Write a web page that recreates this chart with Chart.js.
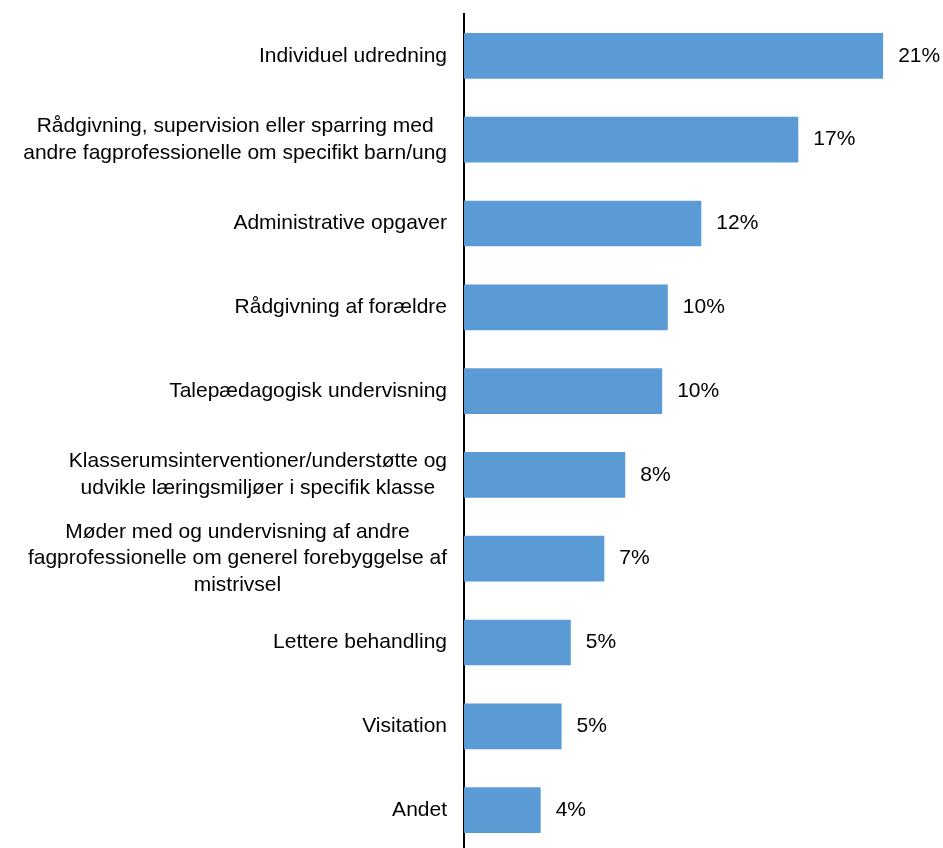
<!DOCTYPE html>
<html>
<head>
<meta charset="utf-8">
<script src="https://cdn.jsdelivr.net/npm/chart.js@4"></script>
<style>
  html, body { margin: 0; padding: 0; background: #fff; overflow: hidden; }
  canvas { display: block; }
</style>
</head>
<body>
<canvas id="barChart" width="943" height="853"></canvas>
<script>
// categories (multi-line labels as arrays of lines)
const categories = [
    ['Individuel udredning'],
    ['Rådgivning, supervision eller sparring med', 'andre fagprofessionelle om specifikt barn/ung'],
    ['Administrative opgaver'],
    ['Rådgivning af forældre'],
    ['Talepædagogisk undervisning'],
    ['Klasserumsinterventioner/understøtte og', 'udvikle læringsmiljøer i specifik klasse'],
    ['Møder med og undervisning af andre', 'fagprofessionelle om generel forebyggelse af', 'mistrivsel'],
    ['Lettere behandling'],
    ['Visitation'],
    ['Andet']
];

// share of time (percent)
const shares = [21.0, 16.75, 11.89, 10.21, 9.93, 8.08, 7.03, 5.35, 4.89, 3.84];

const FONT = '21px "Liberation Sans", Arial, sans-serif';

// --- draws category labels (centered lines, block right-aligned) and value labels ---
const labelPlugin = {
    id: 'labelPlugin',
    afterDraw(chart) {
        const ctx = chart.ctx;
        const yScale = chart.scales.y;
        const area = chart.chartArea;
        ctx.save();
        ctx.font = FONT;
        ctx.fillStyle = '#000';
        ctx.textBaseline = 'middle';

        // category labels
        const lineH = 26.5;
        categories.forEach((lines, i) => {
            const cy = yScale.getPixelForTick(i);
            let blockW = 0;
            lines.forEach(l => { blockW = Math.max(blockW, ctx.measureText(l).width); });
            const cx = area.left - 17 - blockW / 2;
            const y0 = cy - (lines.length - 1) * lineH / 2;
            ctx.textAlign = 'center';
            lines.forEach((l, k) => ctx.fillText(l, cx, y0 + k * lineH));
        });

        // value labels
        const meta = chart.getDatasetMeta(0);
        ctx.textAlign = 'left';
        meta.data.forEach((bar, i) => {
            ctx.fillText(Math.round(shares[i]) + '%', bar.x + 15, bar.y);
        });
        ctx.restore();
    }
};

const ctx = document.getElementById('barChart').getContext('2d');
new Chart(ctx, {
    type: 'bar',
    data: {
        labels: categories,
        datasets: [{
            data: shares,
            backgroundColor: '#5B9BD5',
            borderWidth: 0,
            categoryPercentage: 1,
            barPercentage: 0.545
        }]
    },
    options: {
        indexAxis: 'y',
        responsive: false,
        animation: false,
        layout: { padding: { top: 14, bottom: 1, left: 0, right: 0 } },
        plugins: {
            legend: { display: false },
            tooltip: { enabled: false }
        },
        scales: {
            x: {
                display: false,
                min: 0,
                max: 24
            },
            y: {
                grid: { display: false },
                border: { display: true, color: '#000', width: 2 },
                ticks: { display: false },
                afterFit(scale) { scale.width = 464; }
            }
        }
    },
    plugins: [labelPlugin]
});
</script>
</body>
</html>
